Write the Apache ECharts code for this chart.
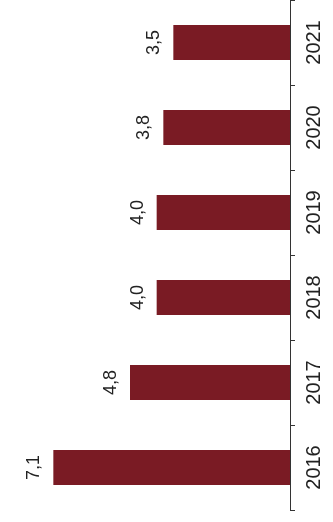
<!DOCTYPE html>
<html><head><meta charset="utf-8">
<script src="https://cdn.jsdelivr.net/npm/echarts@6/dist/echarts.min.js"></script>
<style>html,body{margin:0;padding:0;background:#fff}#c{width:333px;height:522px}</style>
</head><body><div id="c"></div>
<script>
const years = ['2016','2017','2018','2019','2020','2021'];
const values = [7.1, 4.8, 4.0, 4.0, 3.8, 3.5];
const chart = echarts.init(document.getElementById('c'), null, {renderer:'canvas'});
chart.setOption({
  animation:false,
  grid:{left:0, right:43, top:0, bottom:12, containLabel:false},
  xAxis:{type:'value', inverse:true, min:0, max:8.7, show:false},
  yAxis:{type:'category', position:'right', data:years,
    axisLine:{lineStyle:{color:'#333', width:1}},
    axisTick:{show:true, length:5, lineStyle:{color:'#333'}},
    axisLabel:{rotate:90, fontSize:20, color:'#222', fontFamily:'Liberation Sans', margin:14}
  },
  series:[{type:'bar', data:values, barWidth:35, itemStyle:{color:'#7a1b24'},
    label:{show:true, position:'left', distance:10, rotate:90, align:'center', verticalAlign:'bottom',
      fontSize:18, color:'#222', fontFamily:'Liberation Sans',
      formatter:p=>p.value.toFixed(1).replace('.',',')}
  }]
});
</script></body></html>
